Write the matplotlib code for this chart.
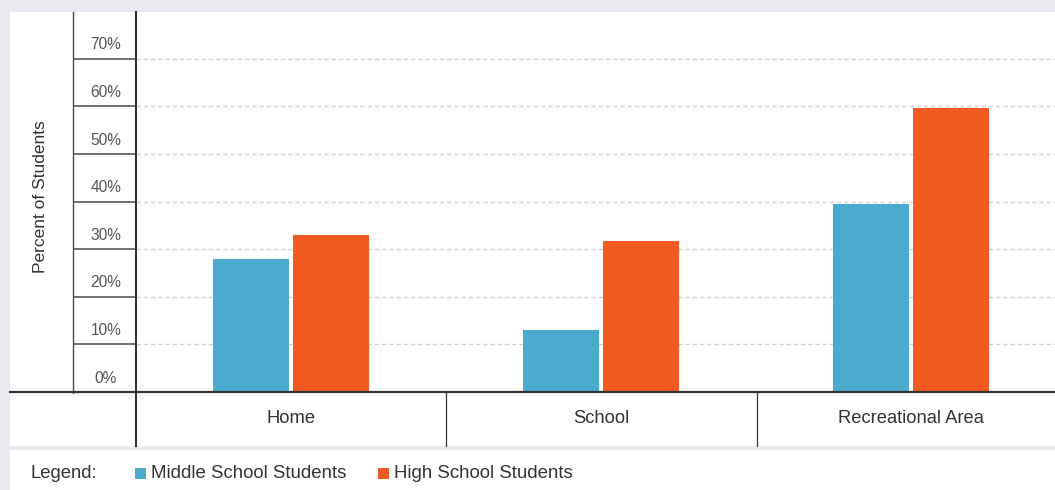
import matplotlib
matplotlib.use("Agg")
import matplotlib.pyplot as plt
from matplotlib.lines import Line2D
from matplotlib.patches import Rectangle

# Data
categories = ["Home", "School", "Recreational Area"]
middle_school = [28, 13, 39.4]
high_school = [33, 31.7, 59.6]
series_names = ["Middle School Students", "High School Students"]
y_ticks = [0, 10, 20, 30, 40, 50, 60, 70]
y_tick_labels = ["0%", "10%", "20%", "30%", "40%", "50%", "60%", "70%"]

# Style
BLUE = "#4aabce"
ORANGE = "#f25a22"
BG = "#e9e9ef"
DARK = "#333333"
MID = "#555555"
FONT = ["Liberation Sans", "DejaVu Sans"]
plt.rcParams["font.family"] = FONT
plt.rcParams["lines.scale_dashes"] = False

W, H = 1055, 490
fig = plt.figure(figsize=(W / 100, H / 100), dpi=100, facecolor=BG)


def fx(px):
    return px / W


def fy(py):
    return 1 - py / H


# White panels
fig.add_artist(Rectangle((fx(10), fy(446)), fx(1055) - fx(10), fy(12) - fy(446),
                         transform=fig.transFigure, facecolor="white",
                         edgecolor="none", zorder=0))
fig.add_artist(Rectangle((fx(10), fy(490)), fx(1055) - fx(10), fy(450) - fy(490),
                         transform=fig.transFigure, facecolor="white",
                         edgecolor="none", zorder=0))

# Plot area
x_left, x_right = 136, 1066
y_top, y_base = 12, 392
ax = fig.add_axes([fx(x_left), fy(y_base), fx(x_right) - fx(x_left), fy(y_top) - fy(y_base)])
ax.set_facecolor("none")
ax.set_xlim(-0.5, len(categories) - 0.5)
ax.set_ylim(0, 79.8)
for s in ax.spines.values():
    s.set_visible(False)
ax.set_xticks([])
ax.set_yticks(y_ticks[1:])
ax.tick_params(axis="y", length=0, labelleft=False)
ax.yaxis.grid(True, color="#d2d2d2", linewidth=1.0, linestyle=(0, (3.2, 2.0)))
ax.set_axisbelow(True)

xs = list(range(len(categories)))
bw = 0.245
off = 0.13
ax.bar([x - off for x in xs], middle_school, width=bw, color=BLUE, zorder=3,
       label=series_names[0])
ax.bar([x + off for x in xs], high_school, width=bw, color=ORANGE, zorder=3,
       label=series_names[1])

# Category labels beneath the baseline
for x, name in zip(xs, categories):
    ax.text(x, -26 / (y_base - y_top), name, transform=ax.get_xaxis_transform(),
            ha="center", va="center", fontsize=13.2, color=DARK)

# Tick-label column to the left of the axis
col = fig.add_axes([fx(73), fy(y_base), fx(136) - fx(73), fy(y_top) - fy(y_base)],
                   sharey=ax)
col.set_facecolor("none")
for s in col.spines.values():
    s.set_visible(False)
col.set_xticks([])
col.tick_params(axis="y", length=0, labelleft=False)
col.set_xlim(0, 1)
col.hlines(y_ticks, 0, 1, color="#4a4a4a", linewidth=1.1)
for v, lab in zip(y_ticks, y_tick_labels):
    col.text(0.52, v + 2.9, lab, ha="center", va="center", fontsize=11.2, color=MID)

# Frame lines
fig.add_artist(Line2D([fx(73), fx(73)], [fy(12), fy(393)], transform=fig.transFigure,
                      color="#4a4a4a", linewidth=1.0, zorder=5))
fig.add_artist(Line2D([fx(136), fx(136)], [fy(12), fy(446)], transform=fig.transFigure,
                      color=DARK, linewidth=1.5, zorder=6))
fig.add_artist(Line2D([fx(10), fx(1055)], [fy(392.5), fy(392.5)], transform=fig.transFigure,
                      color=DARK, linewidth=1.6, zorder=6))
for px in (446, 757):
    fig.add_artist(Line2D([fx(px), fx(px)], [fy(393), fy(446)], transform=fig.transFigure,
                          color=DARK, linewidth=0.9, zorder=5))

# Y-axis title
fig.text(fx(41), fy(196.5), "Percent of Students", rotation=90, ha="center",
         va="center", fontsize=12.5, color=DARK)

# Legend row
fig.text(fx(30), fy(473), "Legend:", ha="left", va="center", fontsize=13.3, color=DARK)
for sq_x, txt_x, color, name in ((135, 151, BLUE, series_names[0]),
                                  (378, 394, ORANGE, series_names[1])):
    fig.add_artist(Rectangle((fx(sq_x), fy(478.5)), fx(11) - fx(0), fy(468) - fy(478.5),
                             transform=fig.transFigure, facecolor=color,
                             edgecolor="none"))
    fig.text(fx(txt_x), fy(473), name, ha="left", va="center", fontsize=13.4, color=DARK)

fig.savefig("out.png", dpi=100, facecolor=BG)
